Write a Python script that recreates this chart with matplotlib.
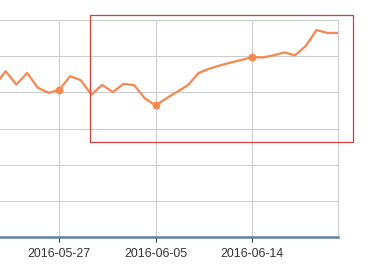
import matplotlib
matplotlib.use("Agg")
import matplotlib.pyplot as plt
import matplotlib.dates as mdates
from matplotlib.patches import Rectangle
import numpy as np
import pandas as pd

plt.rcParams['font.family'] = ['Liberation Sans', 'DejaVu Sans']

dates = pd.date_range("2016-05-21", "2016-06-22", freq="D")
values = [42.0, 45.9, 42.2, 45.4, 41.3, 39.9, 40.7, 44.5, 43.4, 39.4,
          42.1, 40.1, 42.4, 42.0, 38.3, 36.4, 38.4, 40.2, 42.0, 45.4,
          46.6, 47.5, 48.3, 49.0, 49.8, 49.7, 50.3, 51.1, 50.3, 52.9,
          57.3, 56.5, 56.5]
tick_dates = pd.to_datetime(["2016-05-27", "2016-06-05", "2016-06-14"])
tick_labels = ["2016-05-27", "2016-06-05", "2016-06-14"]
y_grid = [10, 20, 30, 40, 50, 60]

W, H = 379, 277
fig = plt.figure(figsize=(W / 100, H / 100), dpi=100)
left_px, right_px, top_px, bottom_px = 0, 338.3, 20.3, 236.8
ax = fig.add_axes([left_px / W, 1 - bottom_px / H,
                   (right_px - left_px) / W, (bottom_px - top_px) / H])

xd = mdates.date2num(dates)
ref = mdates.date2num(tick_dates[0])
ax.set_xlim(ref - 5.53, ref + 26.03)
ax.set_ylim(0, 60)

line_color = '#f5874f'
ax.plot(xd, values, color=line_color, lw=1.6, zorder=3, solid_joinstyle='round')
mask = np.isin(dates, tick_dates)
ax.plot(xd[mask], np.array(values)[mask], 'o', color=line_color, ms=4.6, zorder=4)

ax.set_xticks(mdates.date2num(tick_dates))
ax.set_xticklabels(tick_labels)
ax.set_yticks(y_grid)
ax.tick_params(axis='y', left=False, labelleft=False)
ax.tick_params(axis='x', length=3.5, width=0.8, color='#333333', pad=4.5,
               labelsize=8.9, labelcolor='#333333')
ax.grid(True, color='#cccccc', lw=0.75)
ax.set_axisbelow(True)

for s in ['top', 'left']:
    ax.spines[s].set_visible(False)
ax.spines['right'].set_color('#cccccc')
ax.spines['right'].set_linewidth(0.75)
ax.spines['bottom'].set_color('#5b82a6')
ax.spines['bottom'].set_linewidth(1.8)
ax.spines['bottom'].set_zorder(5)

# red highlight rectangle (pixel coordinates)
rx0, ry0, rx1, ry1 = 89.5, 14.5, 353.3, 141.8
fig.patches.append(Rectangle((rx0 / W, 1 - ry1 / H), (rx1 - rx0) / W, (ry1 - ry0) / H,
                             transform=fig.transFigure, fill=False,
                             edgecolor='#cc4040', lw=0.9, zorder=10))

fig.savefig("out.png", dpi=100)
